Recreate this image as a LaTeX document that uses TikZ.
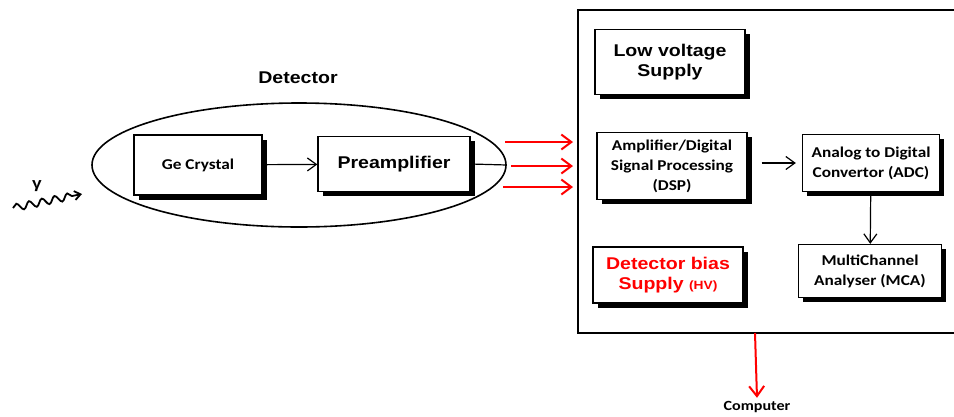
\documentclass[tikz,border=0pt]{standalone}
\usepackage{fontspec}
\setmainfont{Liberation Sans}[FakeStretch=1.15]
\newfontfamily\calfont{Carlito}[FakeStretch=1.15]
\usepackage{tikz}
\usetikzlibrary{shapes,arrows.meta,decorations.pathmorphing}

\tikzset{
  blk/.style={draw,line width=1.3pt,fill=white,align=center,inner sep=2pt,
    preaction={draw=none,fill=black,transform canvas={xshift=4.5pt,yshift=-4.5pt}}},
  big/.style={font=\fontsize{17}{20}\selectfont\bfseries},
  cal/.style={font=\calfont\fontsize{15}{20}\selectfont\bfseries},
  conn/.style={-{Straight Barb[length=9pt,width=13pt]},line width=1.2pt},
  redarr/.style={-{Straight Barb[length=10pt,width=15pt]},red,line width=2pt}
}

\begin{document}
\begin{tikzpicture}[x=1pt,y=-1pt]
\useasboundingbox (0,0) rectangle (954,416);
% detector
\node[draw,line width=1.6pt,ellipse,minimum width=414pt,minimum height=124pt] (det) at (299,165) {};
\node[big] (dlab) at (298,78) {Detector};
\node[blk,cal,minimum width=128pt,minimum height=60pt] (ge) at (198,165) {Ge Crystal};
\node[blk,big,minimum width=152pt,minimum height=55pt] (pre) at (394,164) {Preamplifier};
\draw[conn] (ge) -- (pre);
\draw[line width=1.2pt] (pre.east) -- (det.east);
% gamma
\coordinate (g0) at (13,208);
\coordinate (g1) at (82,194);
\draw[line width=1.8pt,-{Straight Barb[length=6pt,width=9pt]},decorate,decoration={snake,amplitude=3.5pt,segment length=13pt,post length=7pt}] (g0) -- (g1);
\node[font=\fontsize{15}{16}\selectfont\bfseries] (gam) at (37,186) {γ};
% electronics
\draw[line width=1.8pt] (578,10) rectangle (962,333);
\coordinate (in1) at (573,142);
\coordinate (in2) at (573,166);
\coordinate (in3) at (573,187);
\draw[redarr] (505,142) -- (in1);
\draw[redarr] (511,166) -- (in2);
\draw[redarr] (503,187) -- (in3);
\node[blk,big,minimum width=150pt,minimum height=65pt] (lvs) at (670,62) {Low voltage\\Supply};
\node[blk,cal,minimum width=150pt,minimum height=67pt] (dsp) at (672,166) {Amplifier/Digital\\Signal Processing\\(DSP)};
\node[blk,cal,minimum width=137pt,minimum height=57pt] (adc) at (871,163) {Analog to Digital\\Convertor (ADC)};
\node[blk,cal,minimum width=143pt,minimum height=53pt] (mca) at (870,271) {MultiChannel\\Analyser (MCA)};
\node[blk,big,text=red,minimum width=150pt,minimum height=56pt] (hv) at (668,275) {Detector bias\\Supply {\fontsize{12}{14}\selectfont(HV)}};
\draw[conn] ([xshift=14pt]dsp.east |- adc.west) -- ([xshift=-6pt]adc.west);
\draw[conn] (adc) -- (mca);
% output
\node[cal,font=\calfont\fontsize{14}{16}\selectfont\bfseries] (pc) at (757,407) {Computer};
\coordinate (out) at (755,333);
\draw[redarr] (out) -- (pc.north);
\end{tikzpicture}
\end{document}
